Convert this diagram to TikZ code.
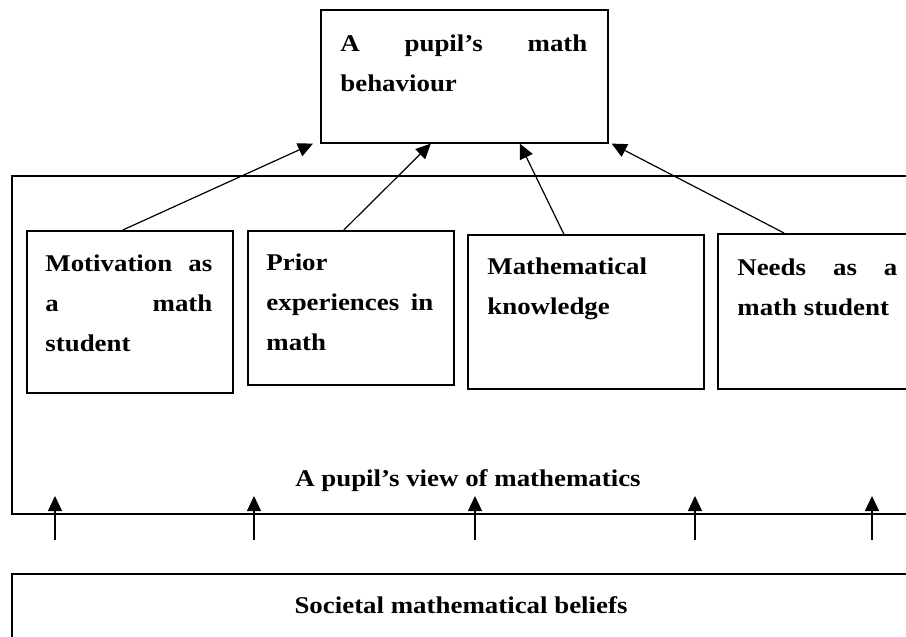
\documentclass[tikz,border=0pt]{standalone}
\usepackage{fontspec}
\setmainfont[FakeStretch=1.12]{Liberation Serif}
\usetikzlibrary{arrows.meta}

\begin{document}
\begin{tikzpicture}[
x=0.5pt, y=-0.5pt,
box/.style={draw, line width=0.8pt, inner sep=0pt, anchor=north west},
txt/.style={inner sep=0pt, align=justify, font=\fontsize{12}{20}\selectfont\bfseries},
arrow/.style={-{Triangle[width=7pt,length=7.5pt]}, line width=0.6pt}
]
\useasboundingbox (0,0) rectangle (906,637);
\clip (0,0) rectangle (906,637);
% boxes
\node[box, minimum width=143.5pt, minimum height=66.5pt] (beh) at (320,9) {};
\node[box, minimum width=459.5pt, minimum height=169pt] (view) at (11,175) {};
\node[box, minimum width=103pt, minimum height=81pt] (mot) at (26,230) {};
\node[box, minimum width=103pt, minimum height=77pt] (prior) at (247,230) {};
\node[box, minimum width=118pt, minimum height=77pt] (know) at (467,234) {};
\node[box, minimum width=106.5pt, minimum height=77.5pt] (needs) at (717,233) {};
\node[box, minimum width=459.5pt, minimum height=43.5pt] (soc) at (11,573) {};
% texts
\node[txt, text width=123.5pt, anchor=base west] (behT) at (340,52) {A\hfill pupil’s\hfill math\\behaviour};
\node[txt, text width=83.5pt, anchor=base west] (motT) at (45,271) {Motivation\hfill as\\a\hfill math\\student};
\node[txt, text width=83.5pt, anchor=base west] (priorT) at (266,270) {Prior\\experiences\hfill in\\math};
\node[txt, text width=100pt, anchor=base west] (knowT) at (487,274) {Mathematical\\knowledge};
\node[txt, text width=80pt, anchor=base west] (needsT) at (737,275) {Needs\hfill as\hfill a\\math student};
\node[txt, anchor=base] (viewT) at (468,486) {A pupil’s view of mathematics};
\node[txt, anchor=base] (socT) at (461,613) {Societal mathematical beliefs};
% arrows
\draw[arrow] ([xshift=-3.5pt]mot.north) -- ([xshift=-3.5pt]beh.south west);
\draw[arrow] ([xshift=-3.5pt]prior.north) -- ([xshift=-16.75pt]beh.south);
\draw[arrow] ([xshift=-11pt]know.north) -- ([xshift=27.75pt]beh.south);
\draw[arrow] ([xshift=33.5pt]needs.north west) -- ([xshift=1.5pt]beh.south east);
\foreach \x [count=\i] in {55,254,475,695,872}{
  \coordinate (from\i) at (\x,540);
  \coordinate (to\i) at (\x,496);
  \draw[arrow] (from\i) -- (to\i);
}
\end{tikzpicture}
\end{document}
